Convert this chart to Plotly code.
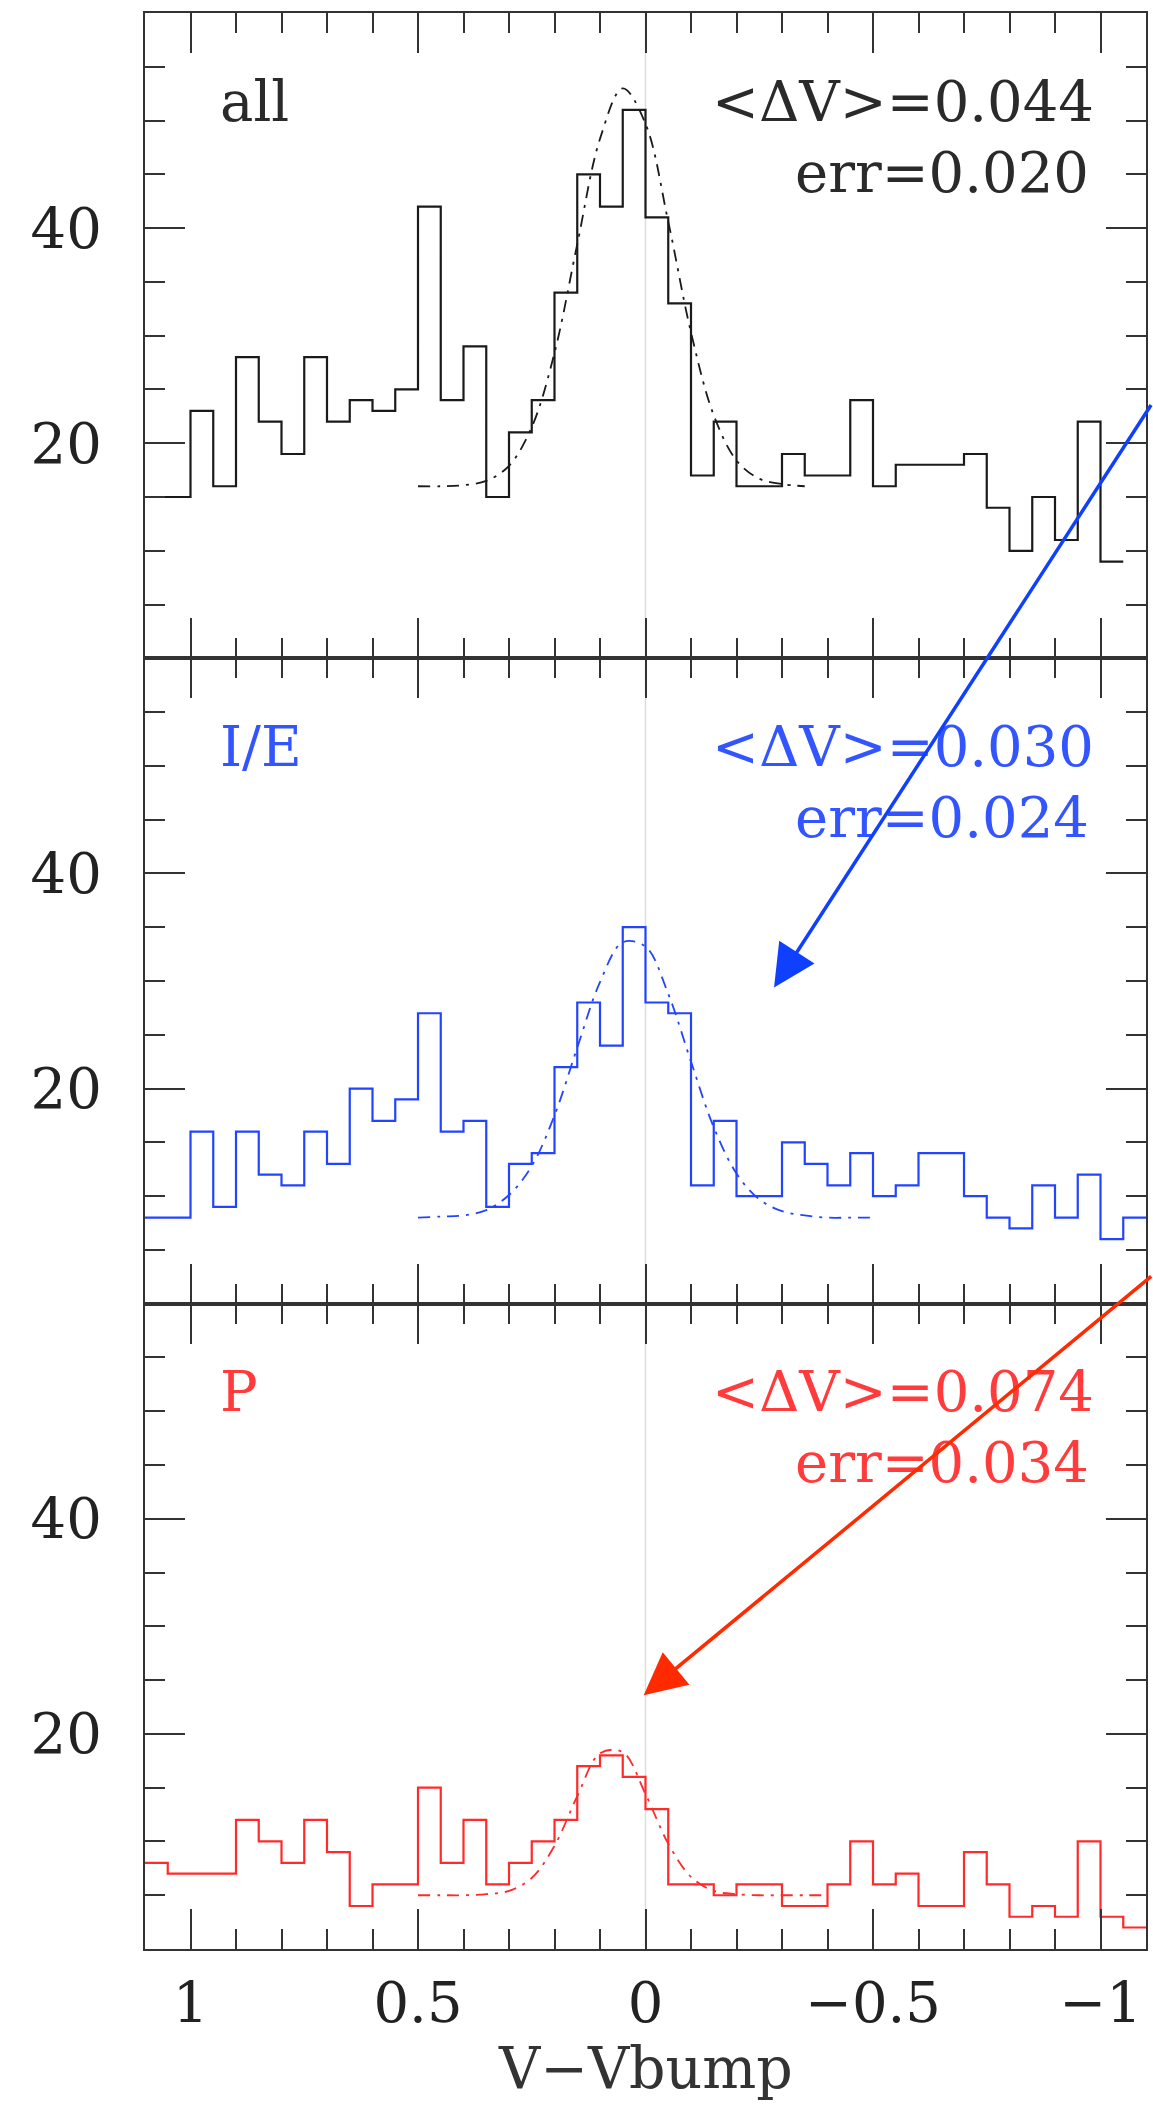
import plotly.graph_objects as go
from plotly.subplots import make_subplots

# ---------------- data ----------------
bin_edges = [1.1, 1.05, 1.0, 0.95, 0.9, 0.85, 0.8, 0.75, 0.7, 0.65, 0.6, 0.55,
             0.5, 0.45, 0.4, 0.35, 0.3, 0.25, 0.2, 0.15, 0.1, 0.05, 0.0,
             -0.05, -0.1, -0.15, -0.2, -0.25, -0.3, -0.35, -0.4, -0.45, -0.5,
             -0.55, -0.6, -0.65, -0.7, -0.75, -0.8, -0.85, -0.9, -0.95, -1.0,
             -1.05, -1.1]

counts_all = [15, 15, 23, 16, 28, 22, 19, 28, 22, 24, 23, 25, 42, 24, 29, 15,
              21, 24, 34, 45, 42, 51, 41, 33, 17, 22, 16, 16, 19, 17, 17, 24,
              16, 18, 18, 18, 19, 14, 10, 15, 11, 22, 9]
counts_ie = [8, 8, 16, 9, 16, 12, 11, 16, 13, 20, 17, 19, 27, 16, 17, 9,
             13, 14, 22, 28, 24, 35, 28, 27, 11, 17, 10, 10, 15, 13, 11, 14,
             10, 11, 14, 14, 10, 8, 7, 11, 8, 12, 6, 8]
counts_p = [8, 7, 7, 7, 12, 10, 8, 12, 9, 4, 6, 6, 15, 8, 12, 6,
            8, 10, 12, 17, 18, 16, 13, 6, 6, 5, 6, 6, 4, 4, 6, 10,
            6, 7, 4, 4, 9, 6, 3, 4, 3, 10, 3, 2]

fit_x_all = [0.5, 0.45, 0.4, 0.35, 0.3, 0.25, 0.2, 0.15, 0.1, 0.05, 0.0,
             -0.05, -0.1, -0.15, -0.2, -0.25, -0.3, -0.35]
fit_all = [16.0, 16.0, 16.1, 16.5, 17.9, 21.5, 28.4, 38.5, 48.3, 53.0, 49.7,
           40.6, 30.3, 22.6, 18.4, 16.7, 16.2, 16.0]

fit_x_ie = [0.5, 0.45, 0.4, 0.35, 0.3, 0.25, 0.2, 0.15, 0.1, 0.05, 0.0,
            -0.05, -0.1, -0.15, -0.2, -0.25, -0.3, -0.35, -0.4, -0.45, -0.5]
fit_ie = [8.0, 8.1, 8.2, 8.7, 10.1, 12.8, 17.5, 23.8, 29.9, 33.6, 33.2,
          28.8, 22.5, 16.4, 12.1, 9.7, 8.6, 8.2, 8.0, 8.0, 8.0]

fit_x_p = [0.5, 0.45, 0.4, 0.35, 0.3, 0.25, 0.2, 0.15, 0.1, 0.05, 0.0,
           -0.05, -0.1, -0.15, -0.2, -0.25, -0.3, -0.35, -0.4]
fit_p = [5.0, 5.0, 5.0, 5.1, 5.4, 6.6, 9.6, 14.2, 18.2, 18.3, 14.4,
         9.8, 6.7, 5.4, 5.1, 5.0, 5.0, 5.0, 5.0]

panel_names = ["all", "I/E", "P"]
mean_text = ["<ΔV>=0.044", "<ΔV>=0.030", "<ΔV>=0.074"]
err_text = ["err=0.020", "err=0.024", "err=0.034"]

x_tick_vals = [1, 0.5, 0, -0.5, -1]
x_tick_text = ["1", "0.5", "0", "−0.5", "−1"]
x_minor_vals = [0.9, 0.8, 0.7, 0.6, 0.4, 0.3, 0.2, 0.1,
                -0.1, -0.2, -0.3, -0.4, -0.6, -0.7, -0.8, -0.9]
y_tick_vals = [20, 40]
y_tick_text = ["20", "40"]
y_minor_vals = [5, 10, 15, 25, 30, 35, 45, 50, 55]

# ---------------- styles ----------------
hist_colors = ["#1a1a1a", "#2244ff", "#ff2a2a"]
text_colors = ["#2a2a2a", "#3355ff", "#ff3b3b"]
AX = "#333333"
FONT = "DejaVu Serif"

fig = make_subplots(rows=3, cols=1, shared_xaxes=True, vertical_spacing=0)

all_counts = [counts_all, counts_ie, counts_p]
all_fit_x = [fit_x_all, fit_x_ie, fit_x_p]
all_fit_y = [fit_all, fit_ie, fit_p]

for i in range(3):
    c = all_counts[i]
    xs = bin_edges[:len(c) + 1]
    ys = c + [c[-1]]
    fig.add_trace(go.Scatter(x=xs, y=ys, mode="lines", line_shape="hv",
                             line=dict(color=hist_colors[i], width=2.2),
                             hoverinfo="skip"), row=i + 1, col=1)
    fig.add_trace(go.Scatter(x=all_fit_x[i], y=all_fit_y[i], mode="lines",
                             line_shape="spline",
                             line=dict(color=hist_colors[i], width=1.8,
                                       dash="12px,7px,3px,7px"),
                             hoverinfo="skip"), row=i + 1, col=1)

for i in range(3):
    xr = "x" if i == 0 else f"x{i+1}"
    yr = "y" if i == 0 else f"y{i+1}"
    fig.add_shape(type="line", x0=0, x1=0, y0=0, y1=1, xref=xr,
                  yref=f"{yr} domain", line=dict(color="#dddddd", width=1.5),
                  layer="below")
    fig.add_annotation(x=0.94, y=51.8, xref=xr, yref=yr, text=panel_names[i],
                       showarrow=False, xanchor="left", yanchor="middle",
                       font=dict(family=FONT, size=56, color=text_colors[i]))
    fig.add_annotation(x=-0.99, y=51.8, xref=xr, yref=yr, text=mean_text[i],
                       showarrow=False, xanchor="right", yanchor="middle",
                       font=dict(family=FONT, size=56, color=text_colors[i]))
    fig.add_annotation(x=-0.98, y=45.2, xref=xr, yref=yr, text=err_text[i],
                       showarrow=False, xanchor="right", yanchor="middle",
                       font=dict(family=FONT, size=56, color=text_colors[i]))

# hand-drawn style arrows
fig.add_annotation(x=-0.2825, y=29.4, xref="x2", yref="y2", text="",
                   showarrow=True, ax=378, ay=-584, arrowhead=2, arrowsize=2.4,
                   arrowwidth=3.5, arrowcolor="#1040ff")
fig.add_annotation(x=0.004, y=23.6, xref="x3", yref="y3", text="",
                   showarrow=True, ax=509, ay=-420, arrowhead=2, arrowsize=2.4,
                   arrowwidth=3.5, arrowcolor="#ff2a00")

# x-axis title
fig.add_annotation(x=0, y=-0.0615, xref="x3", yref="paper", text="V−Vbump",
                   showarrow=False, xanchor="center", yanchor="middle",
                   font=dict(family=FONT, size=57, color="#333333"))

fig.update_xaxes(range=[1.1, -1.1], showline=True, linecolor=AX, linewidth=2,
                 mirror="ticks", ticks="inside", ticklen=40, tickwidth=2,
                 tickcolor=AX, tickvals=x_tick_vals, ticktext=x_tick_text,
                 minor=dict(tickvals=x_minor_vals, ticklen=20, tickwidth=2,
                            tickcolor=AX, ticks="inside"),
                 showgrid=False, zeroline=False, ticklabelstandoff=4,
                 tickfont=dict(family=FONT, size=56, color="#222222"))
fig.update_yaxes(range=[0, 60], showline=True, linecolor=AX, linewidth=2,
                 mirror="ticks", ticks="inside", ticklen=40, tickwidth=2,
                 tickcolor=AX, tickvals=y_tick_vals, ticktext=y_tick_text,
                 minor=dict(tickvals=y_minor_vals, ticklen=20, tickwidth=2,
                            tickcolor=AX, ticks="inside"),
                 showgrid=False, zeroline=False, ticklabelstandoff=30,
                 tickfont=dict(family=FONT, size=56, color="#222222"))

fig.update_layout(width=1153, height=2106,
                  margin=dict(l=145, r=5, t=13, b=157),
                  paper_bgcolor="white", plot_bgcolor="white",
                  showlegend=False,
                  font=dict(family=FONT, size=56, color="#222222"))

fig.write_html("out.html")
